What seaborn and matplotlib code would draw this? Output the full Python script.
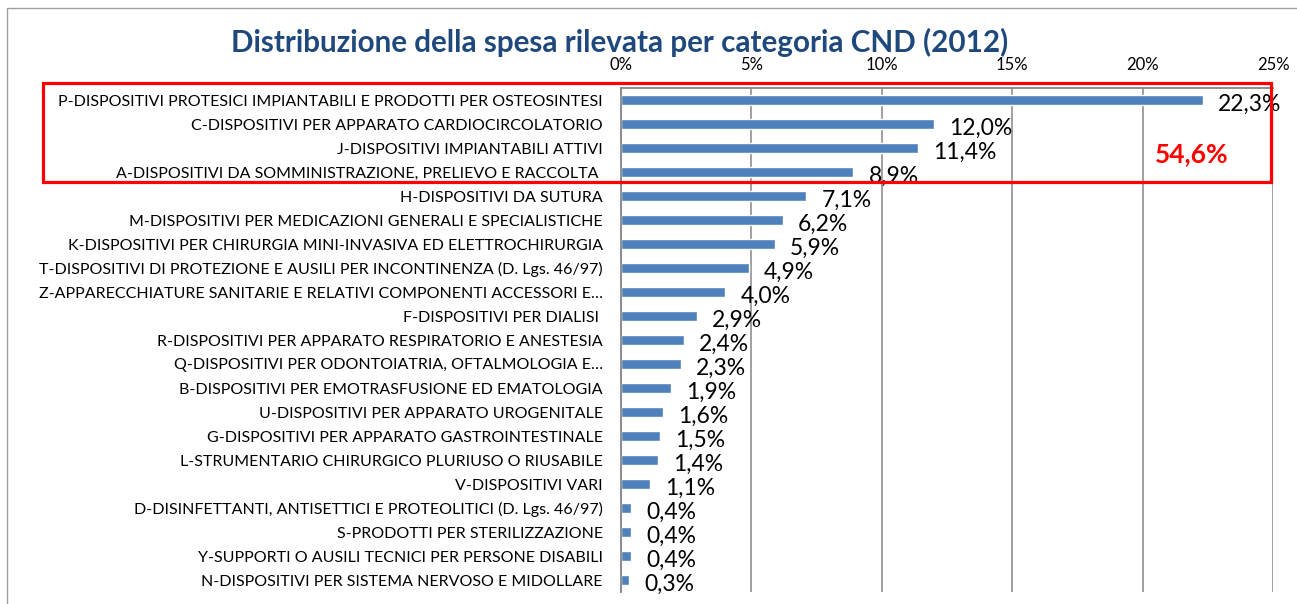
import matplotlib.pyplot as plt
import matplotlib.lines as mlines
import matplotlib.patches as mpatches
import numpy as np
import pandas as pd
import seaborn as sns

categories = [
    "P-DISPOSITIVI PROTESICI IMPIANTABILI E PRODOTTI PER OSTEOSINTESI",
    "C-DISPOSITIVI PER APPARATO CARDIOCIRCOLATORIO",
    "J-DISPOSITIVI IMPIANTABILI ATTIVI",
    "A-DISPOSITIVI DA SOMMINISTRAZIONE, PRELIEVO E RACCOLTA ",
    "H-DISPOSITIVI DA SUTURA",
    "M-DISPOSITIVI PER MEDICAZIONI GENERALI E SPECIALISTICHE",
    "K-DISPOSITIVI PER CHIRURGIA MINI-INVASIVA ED ELETTROCHIRURGIA",
    "T-DISPOSITIVI DI PROTEZIONE E AUSILI PER INCONTINENZA (D. Lgs. 46/97)",
    "Z-APPARECCHIATURE SANITARIE E RELATIVI COMPONENTI ACCESSORI E\u2026",
    "F-DISPOSITIVI PER DIALISI ",
    "R-DISPOSITIVI PER APPARATO RESPIRATORIO E ANESTESIA",
    "Q-DISPOSITIVI PER ODONTOIATRIA, OFTALMOLOGIA E\u2026",
    "B-DISPOSITIVI PER EMOTRASFUSIONE ED EMATOLOGIA",
    "U-DISPOSITIVI PER APPARATO UROGENITALE",
    "G-DISPOSITIVI PER APPARATO GASTROINTESTINALE",
    "L-STRUMENTARIO CHIRURGICO PLURIUSO O RIUSABILE",
    "V-DISPOSITIVI VARI",
    "D-DISINFETTANTI, ANTISETTICI E PROTEOLITICI (D. Lgs. 46/97)",
    "S-PRODOTTI PER STERILIZZAZIONE",
    "Y-SUPPORTI O AUSILI TECNICI PER PERSONE DISABILI",
    "N-DISPOSITIVI PER SISTEMA NERVOSO E MIDOLLARE",
]
spesa_pct = [22.3, 12.0, 11.4, 8.9, 7.1, 6.2, 5.9, 4.9, 4.0, 2.9, 2.4,
             2.3, 1.9, 1.6, 1.5, 1.4, 1.1, 0.4, 0.4, 0.4, 0.3]
x_ticks = [0, 5, 10, 15, 20, 25]
top4_total = "54,6%"
title = "Distribuzione della spesa rilevata per categoria CND (2012)"

BAR_COLOR = "#4F81BD"
GRID_COLOR = "#868686"
TITLE_COLOR = "#1F497D"
FONT = ["Lato", "DejaVu Sans"]

sns.set_theme(style="white")
plt.rcParams["font.family"] = FONT

df = pd.DataFrame({"cat": categories, "pct": spesa_pct})

fig = plt.figure(figsize=(12.97, 6.04), dpi=100)
ax = fig.add_axes([621 / 1297, 1 - 592 / 604, (1273 - 621) / 1297, (592 - 88) / 604])

sns.barplot(data=df, x="pct", y="cat", orient="h", color=BAR_COLOR,
            saturation=1, width=0.42, ax=ax)

ax.set_xlim(0, 25)
ax.set_ylim(len(categories) - 0.5, -0.5)
ax.set_xticks(x_ticks)
ax.set_xticklabels([f"{t}%" for t in x_ticks])
ax.xaxis.tick_top()
ax.tick_params(axis="x", length=0, pad=11, labelsize=12, labelcolor="black")
ax.tick_params(axis="y", which="major", length=0, pad=13, labelsize=11.5, labelcolor="black")
ax.set_yticks(np.arange(-0.5, len(categories), 1), minor=True)
ax.tick_params(axis="y", which="minor", length=5, width=1, color=GRID_COLOR, direction="out")
ax.set_xlabel("")
ax.set_ylabel("")

ax.grid(axis="x", color=GRID_COLOR, linewidth=1.1)
ax.set_axisbelow(True)
for side in ("left", "top"):
    ax.spines[side].set_visible(True)
    ax.spines[side].set_color(GRID_COLOR)
    ax.spines[side].set_linewidth(1.3)
ax.spines["right"].set_visible(False)
ax.spines["bottom"].set_visible(False)

for i, v in enumerate(spesa_pct):
    ax.annotate(f"{v:.1f}".replace(".", ",") + "%", xy=(v, i), xytext=(11, -3),
                textcoords="offset points", ha="left", va="center",
                fontsize=16.5, color="black")

fig.text(620 / 1297, 1 - 42 / 604, title, ha="center", va="center",
         fontsize=21.3, fontweight="bold", color=TITLE_COLOR)
fig.text(1192 / 1297, 1 - 154 / 604, top4_total, ha="center", va="center",
         fontsize=19, fontweight="bold", color="#FF0000")

# red box around the first four categories
fig.patches.append(mpatches.Rectangle(
    (43 / 1297, 1 - 182 / 604), (1271 - 43) / 1297, (182 - 83) / 604,
    transform=fig.transFigure, fill=False, edgecolor="#FF0000", linewidth=2.3))

# chart frame (left and top)
fig.lines.append(mlines.Line2D([7 / 1297, 7 / 1297, 1], [0, 1 - 8 / 604, 1 - 8 / 604],
                               transform=fig.transFigure, color="#A0A0A0", linewidth=1))

fig.savefig("out.png", dpi=100)
